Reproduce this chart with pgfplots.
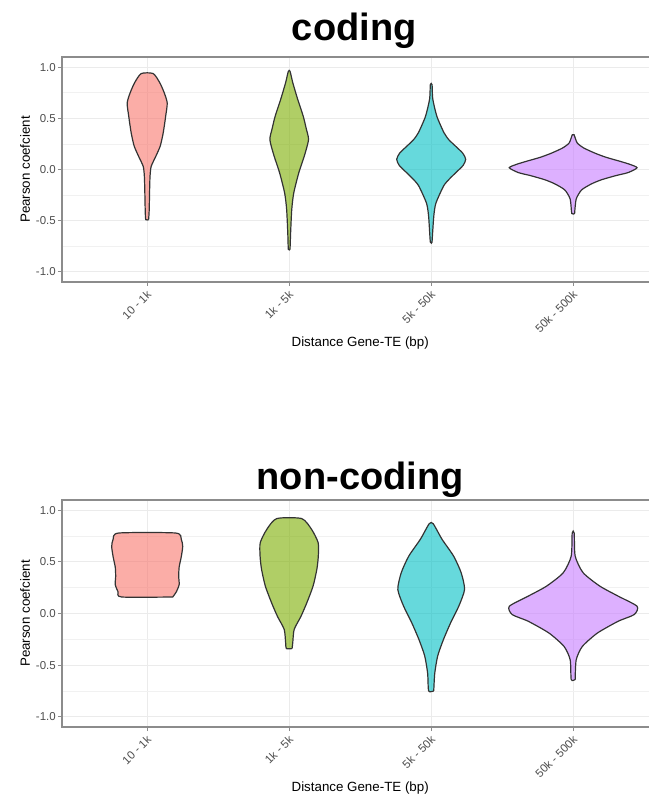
\documentclass[border=0pt]{standalone}
\usepackage{pgfplots}
\pgfplotsset{compat=1.18}
\usepackage{pgfplotstable}
\usepackage{fontspec}
\setmainfont{Liberation Sans}
\definecolor{vred}{HTML}{F8766D}
\definecolor{vgreen}{HTML}{7CAE00}
\definecolor{vcyan}{HTML}{00BFC4}
\definecolor{vpurple}{HTML}{C77CFF}
\definecolor{ticklab}{HTML}{4D4D4D}
\definecolor{gridc}{HTML}{EBEBEB}
\definecolor{borderc}{HTML}{8C8C8C}

% violin outlines: d = signed half-width from the category centre, y = Pearson coefficient
% ---- coding ----
\pgfplotstableread{
d y
0.010 -0.49
0.014 -0.40
0.017 -0.20
0.020 -0.065
0.028 0.03
0.061 0.13
0.092 0.23
0.113 0.36
0.130 0.52
0.141 0.65
0.120 0.75
0.088 0.85
0.042 0.938
-0.042 0.938
-0.088 0.85
-0.120 0.75
-0.141 0.65
-0.130 0.52
-0.113 0.36
-0.092 0.23
-0.061 0.13
-0.028 0.03
-0.020 -0.065
-0.017 -0.20
-0.014 -0.40
-0.010 -0.49
0.010 -0.49
}\cvA
\pgfplotstableread{
d y
0.006 -0.78
0.010 -0.62
0.018 -0.39
0.032 -0.23
0.068 -0.03
0.106 0.13
0.136 0.29
0.120 0.40
0.099 0.52
0.059 0.69
0.025 0.85
0.006 0.96
-0.006 0.96
-0.025 0.85
-0.059 0.69
-0.099 0.52
-0.120 0.40
-0.136 0.29
-0.106 0.13
-0.068 -0.03
-0.032 -0.23
-0.018 -0.39
-0.010 -0.62
-0.006 -0.78
0.006 -0.78
}\cvB
\pgfplotstableread{
d y
0.006 -0.71
0.018 -0.46
0.033 -0.33
0.088 -0.16
0.130 -0.09
0.174 -0.03
0.225 0.04
0.243 0.10
0.222 0.16
0.170 0.23
0.125 0.29
0.090 0.36
0.040 0.52
0.011 0.69
0.006 0.83
-0.006 0.83
-0.011 0.69
-0.040 0.52
-0.090 0.36
-0.125 0.29
-0.170 0.23
-0.222 0.16
-0.243 0.10
-0.225 0.04
-0.174 -0.03
-0.130 -0.09
-0.088 -0.16
-0.033 -0.33
-0.018 -0.46
-0.006 -0.71
0.006 -0.71
}\cvC
\pgfplotstableread{
d y
0.010 -0.43
0.021 -0.29
0.059 -0.20
0.130 -0.14
0.200 -0.10
0.300 -0.06
0.387 -0.03
0.450 0.017
0.400 0.05
0.330 0.08
0.230 0.12
0.153 0.16
0.075 0.21
0.028 0.26
0.006 0.34
-0.006 0.34
-0.028 0.26
-0.075 0.21
-0.153 0.16
-0.230 0.12
-0.330 0.08
-0.400 0.05
-0.450 0.017
-0.387 -0.03
-0.300 -0.06
-0.200 -0.10
-0.130 -0.14
-0.059 -0.20
-0.021 -0.29
-0.010 -0.43
0.010 -0.43
}\cvD
% ---- non-coding ----
\pgfplotstableread{
d y
0.180 0.16
0.205 0.21
0.225 0.28
0.222 0.36
0.225 0.45
0.240 0.55
0.250 0.65
0.240 0.72
0.200 0.78
-0.200 0.78
-0.240 0.72
-0.250 0.65
-0.240 0.55
-0.225 0.45
-0.222 0.36
-0.225 0.28
-0.205 0.21
-0.180 0.16
0.180 0.16
}\nvA
\pgfplotstableread{
d y
0.020 -0.34
0.025 -0.285
0.035 -0.155
0.082 -0.03
0.123 0.10
0.168 0.265
0.195 0.43
0.205 0.556
0.204 0.686
0.158 0.815
0.088 0.92
-0.088 0.92
-0.158 0.815
-0.204 0.686
-0.205 0.556
-0.195 0.43
-0.168 0.265
-0.123 0.10
-0.082 -0.03
-0.035 -0.155
-0.025 -0.285
-0.020 -0.34
0.020 -0.34
}\nvB
\pgfplotstableread{
d y
0.018 -0.75
0.025 -0.58
0.046 -0.41
0.087 -0.25
0.137 -0.09
0.194 0.07
0.235 0.233
0.211 0.395
0.158 0.556
0.076 0.72
0.014 0.87
-0.014 0.87
-0.076 0.72
-0.158 0.556
-0.211 0.395
-0.235 0.233
-0.194 0.07
-0.137 -0.09
-0.087 -0.25
-0.046 -0.41
-0.025 -0.58
-0.018 -0.75
0.018 -0.75
}\nvC
\pgfplotstableread{
d y
0.014 -0.64
0.021 -0.45
0.064 -0.32
0.170 -0.19
0.317 -0.075
0.430 -0.01
0.450 0.07
0.317 0.168
0.188 0.265
0.070 0.395
0.014 0.556
0.007 0.78
-0.007 0.78
-0.014 0.556
-0.070 0.395
-0.188 0.265
-0.317 0.168
-0.450 0.07
-0.430 -0.01
-0.317 -0.075
-0.170 -0.19
-0.064 -0.32
-0.021 -0.45
-0.014 -0.64
0.014 -0.64
}\nvD

\newcommand{\violin}[3]{% centre, table, colour
  \addplot[fill=#3, fill opacity=0.6, draw=black!80, line width=0.9pt, smooth, tension=0.4]
    table[x expr=#1+\thisrow{d}, y=y]{#2};
}

\pgfplotsset{vstyle/.style={
  scale only axis, width=447.3pt,
  xmin=0.4, xmax=4.6, ymin=-1.1, ymax=1.1,
  xtick={1,2,3,4}, xticklabels={10 - 1k, 1k - 5k, 5k - 50k, 50k - 500k},
  ytick={-1,-0.5,0,0.5,1}, yticklabels={-1.0,-0.5,0.0,0.5,1.0},
  minor ytick={-0.75,-0.25,0.25,0.75},
  grid=both,
  major grid style={draw=gridc, line width=0.8pt},
  minor grid style={draw=gridc!70, line width=0.45pt},
  axis line style={draw=borderc, line width=0.8pt},
  tick style={draw=borderc, line width=0.8pt},
  tick align=outside, tick pos=left,
  major tick length=3pt, minor tick length=0pt,
  ticklabel style={font=\fontsize{8.6}{10}\selectfont, text=ticklab},
  xticklabel style={xshift=-0.9pt, yshift=-1pt, rotate=45, anchor=north east, inner sep=1pt},
  yticklabel style={inner sep=1.5pt},
  xlabel={Distance Gene-TE (bp)}, ylabel={Pearson coefcient},
  label style={font=\fontsize{10.5}{12}\selectfont, text=black!85},
  every axis x label/.style={at={(axis description cs:0.5,0)}, anchor=center, yshift=-45.75pt},
  every axis y label/.style={at={(axis description cs:0,0.5)}, xshift=-27.75pt, anchor=center, rotate=90},
}}

\begin{document}
\begin{tikzpicture}
\useasboundingbox (0,0) rectangle (486.75pt,600.75pt);
\begin{axis}[vstyle, at={(46.5pt,389.25pt)}, anchor=south west, height=168.75pt,
  title={coding},
  title style={font=\fontsize{28.5}{30}\selectfont\bfseries, at={(axis description cs:0.49,1)}, anchor=base, yshift=6pt}]
\violin{1}{\cvA}{vred}
\violin{2}{\cvB}{vgreen}
\violin{3}{\cvC}{vcyan}
\violin{4}{\cvD}{vpurple}
\end{axis}
\begin{axis}[vstyle, at={(46.5pt,55.5pt)}, anchor=south west, height=170.25pt,
  title={non-coding},
  title style={font=\fontsize{28.5}{30}\selectfont\bfseries, at={(axis description cs:0.5,1)}, anchor=base, yshift=2.25pt}]
\violin{1}{\nvA}{vred}
\violin{2}{\nvB}{vgreen}
\violin{3}{\nvC}{vcyan}
\violin{4}{\nvD}{vpurple}
\end{axis}
\end{tikzpicture}
\end{document}
